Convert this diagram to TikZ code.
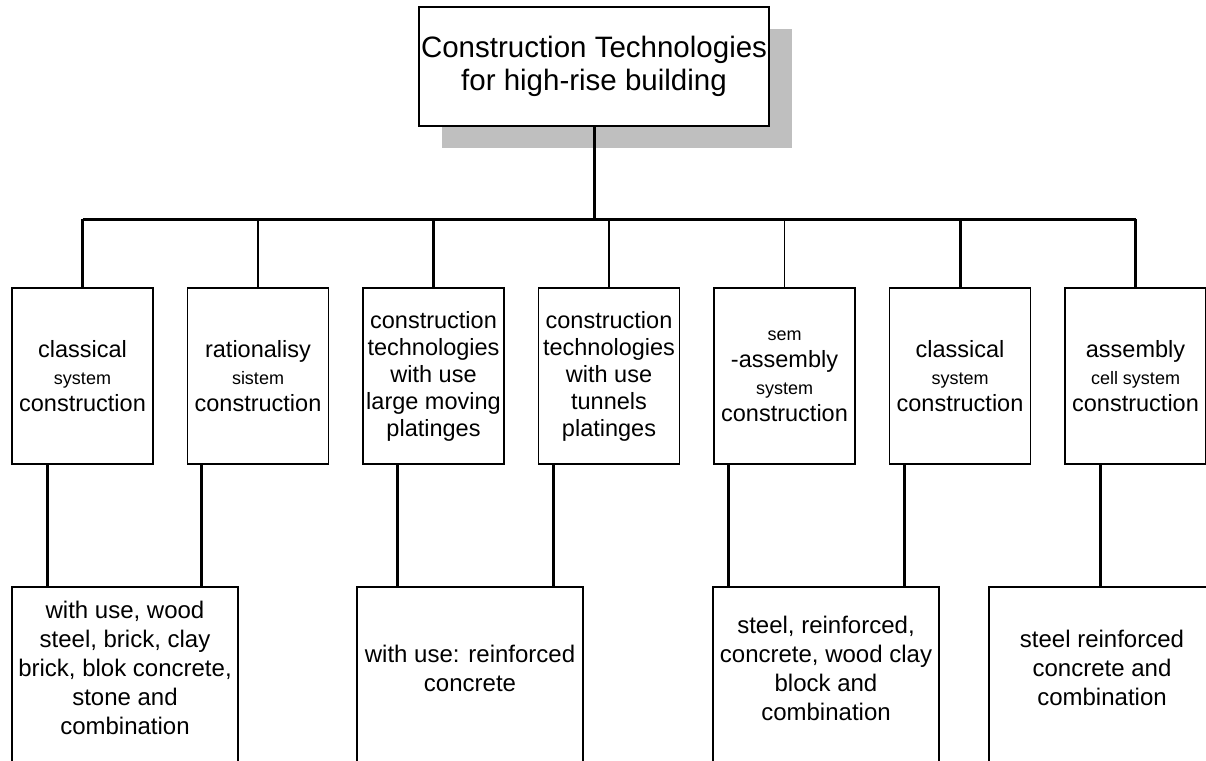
\documentclass[tikz,border=0pt]{standalone}
\usepackage{fontspec}
\setmainfont{Liberation Sans}
\usetikzlibrary{positioning, shadows}
\newcommand{\sm}[1]{{\fontsize{18}{27}\selectfont #1}}

\begin{document}
\begin{tikzpicture}[x=1pt, y=-1pt,
    box/.style={draw, line width=1.2pt, outer sep=0pt, inner sep=2pt, align=center},
    techbox/.style={box, minimum width=141pt, minimum height=176pt, font=\fontsize{23.5}{27}\selectfont},
    matbox/.style={box, anchor=north west, minimum width=226pt, minimum height=200pt},
    mattext/.style={align=center, font=\fontsize{24}{29}\selectfont},
    trunk/.style={line width=3pt},
    twig/.style={line width=1.3pt},
    node distance=34.5pt]
  \useasboundingbox (0,0) rectangle (1206,760);
  \clip (0,0) rectangle (1206,760);

  % Title
  \node[box, minimum width=350pt, minimum height=119pt, fill=white,
        font=\fontsize{29.5}{33}\selectfont,
        drop shadow={shadow xshift=23pt, shadow yshift=-22pt, fill=black!25, opacity=1}]
        (top) at (594,66.5) {Construction Technologies\\for high-rise building};

  % Technologies
	\node[techbox, anchor=north west] (m1) at (12,288) {classical\\\sm{system}\\construction};
	\node[techbox, right=of m1] (m2) {rationalisy\\\sm{sistem}\\construction};
	\node[techbox, right=of m2] (m3) {construction\\technologies\\with use\\large moving\\platinges};
	\node[techbox, right=of m3] (m4) {construction\\technologies\\with use\\tunnels\\platinges};
	\node[techbox, right=of m4] (m5) {\sm{sem}\\-assembly\\\sm{system}\\construction};
	\node[techbox, right=of m5] (m6) {classical\\\sm{system}\\construction};
	\node[techbox, right=of m6] (m7) {assembly\\\sm{cell system}\\construction};

  % Materials
	\node[matbox] (b1) at (12,587) {};
	\node[matbox] (b2) at (357,587) {};
	\node[matbox] (b3) at (713,587) {};
	\node[matbox] (b4) at (989,587) {};
	\node[mattext] (t1) at ([yshift=-81pt]b1.north) {with use, wood\\steel, brick, clay\\brick, blok concrete,\\stone and\\combination};
	\node[mattext] (t2) at ([yshift=-81pt]b2.north) {with use: reinforced\\concrete};
	\node[mattext] (t3) at ([yshift=-81pt]b3.north) {steel, reinforced,\\concrete, wood clay\\block and\\combination};
	\node[mattext] (t4) at ([yshift=-81pt]b4.north) {steel reinforced\\concrete and\\combination};

  % Tree
	\coordinate (hub) at (594,219);
	\draw[trunk] (top.south) -- (hub);
	\draw[trunk] (m1.north |- hub) -- (m7.north |- hub);
	\foreach \b/\s in {m1/trunk, m2/twig, m3/trunk, m4/twig, m5/twig, m6/trunk, m7/trunk}
	  \draw[\s] (\b.north |- hub) -- (\b.north);

  % Technologies to materials
	\foreach \b/\m/\d in {m1/b1/-35, m2/b1/-57, m3/b2/-36, m4/b2/-56, m5/b3/-56, m6/b3/-56, m7/b4/-35}
	  \draw[trunk] ([xshift=\d pt]\b.south) -- ([xshift=\d pt]\b.south |- \m.north);
\end{tikzpicture}
\end{document}
